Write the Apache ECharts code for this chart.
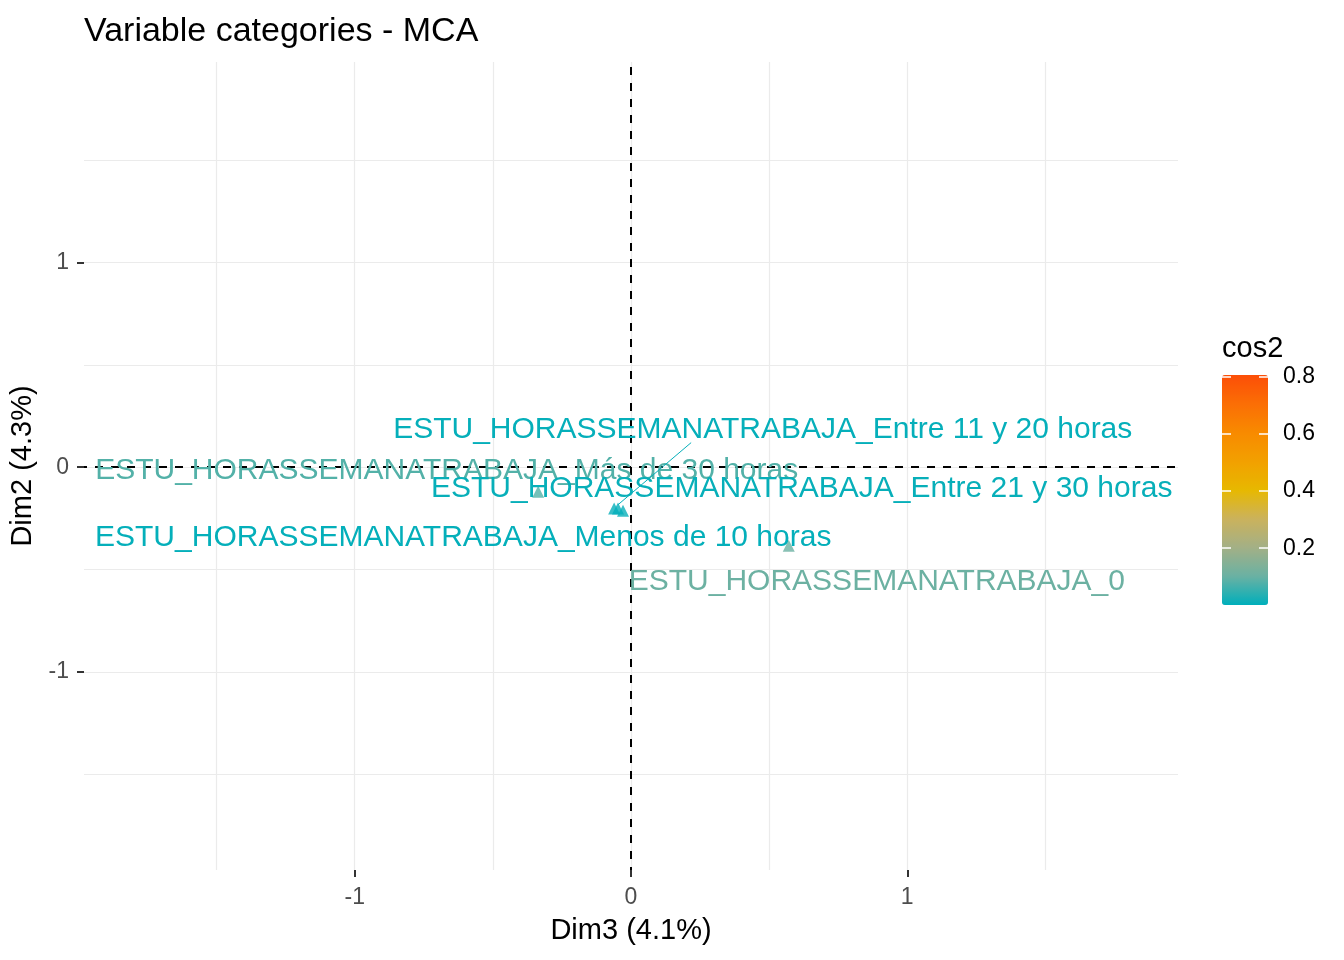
<!DOCTYPE html>
<html>
<head>
<meta charset="utf-8">
<title>Variable categories - MCA</title>
<script src="https://cdn.jsdelivr.net/npm/echarts@6/dist/echarts.min.js"></script>
<style>
    html, body {margin: 0; padding: 0; background: #fff;}
    #main {width: 1344px; height: 960px;}
</style>
</head>
<body>
<div id="main"></div>
<script>
// categorias de la variable (MCA, Dim3 vs Dim2)
var categories = [
    'ESTU_HORASSEMANATRABAJA_Más de 30 horas',
    'ESTU_HORASSEMANATRABAJA_Entre 11 y 20 horas',
    'ESTU_HORASSEMANATRABAJA_Entre 21 y 30 horas',
    'ESTU_HORASSEMANATRABAJA_Menos de 10 horas',
    'ESTU_HORASSEMANATRABAJA_0'
];
var dim3 = [-0.336, -0.061, -0.029, -0.047, 0.571];
var dim2 = [-0.120, -0.202, -0.212, -0.202, -0.383];
var cos2 = [0.080, 0.006, 0.008, 0.005, 0.105];

// ticks
var axisTicks = [-1, 0, 1];
var gridValues = [-1.5, -1, -0.5, 0, 0.5, 1, 1.5];
var legendTicks = [0.2, 0.4, 0.6, 0.8];
var cos2Range = [0.001, 0.807];

// posicion de las etiquetas (px respecto al punto) y segmentos tipo ggrepel
var labelOffsets = [[-443, -21], [-221, -79], [-192, -22], [-523, 29], [-160, 36]];
var segments = [null, [[77, -66], [4, -4]], null, null, null];

var chart = echarts.init(document.getElementById('main'));

var points = categories.map(function (name, i) {
    return [dim3[i], dim2[i], cos2[i], name];
});

var vLines = gridValues.map(function (v) { return {xAxis: v}; });
var hLines = gridValues.map(function (v) { return {yAxis: v}; });

var option = {
    backgroundColor: '#fff',
    animation: false,
    textStyle: {fontFamily: 'Liberation Sans, Arial, sans-serif'},
    title: [{
        text: 'Variable categories - MCA',
        left: 84,
        top: 15,
        padding: 0,
        textStyle: {fontSize: 34, fontWeight: 'normal', color: '#000'}
    }, {
        text: 'cos2',
        left: 1222,
        top: 334,
        padding: 0,
        textStyle: {fontSize: 29, fontWeight: 'normal', color: '#000'}
    }],
    grid: [
        {left: 84, right: 166, top: 62, bottom: 90, outerBoundsMode: 'none'},
        {left: 1222, top: 375, width: 46, height: 230, outerBoundsMode: 'none'}
    ],
    xAxis: [{
        type: 'value',
        min: -1.98,
        max: 1.98,
        name: 'Dim3 (4.1%)',
        nameLocation: 'middle',
        nameGap: 46,
        nameTextStyle: {fontSize: 29, color: '#000'},
        axisLine: {show: false, onZero: false},
        splitLine: {show: false},
        axisTick: {show: true, length: 7, customValues: axisTicks, lineStyle: {color: '#333', width: 2}},
        axisLabel: {customValues: axisTicks, fontSize: 23, color: '#4D4D4D', margin: 16}
    }, {
        gridIndex: 1,
        type: 'value',
        show: false
    }],
    yAxis: [{
        type: 'value',
        min: -1.966,
        max: 1.978,
        name: 'Dim2 (4.3%)',
        nameLocation: 'middle',
        nameGap: 42,
        nameTextStyle: {fontSize: 29, color: '#000'},
        axisLine: {show: false, onZero: false},
        splitLine: {show: false},
        axisTick: {show: true, length: 7, customValues: axisTicks, lineStyle: {color: '#333', width: 2}},
        axisLabel: {customValues: axisTicks, fontSize: 23, color: '#4D4D4D', margin: 15}
    }, {
        // marcas blancas de la barra de color (izquierda)
        gridIndex: 1,
        type: 'value',
        position: 'left',
        min: cos2Range[0],
        max: cos2Range[1],
        z: 10,
        axisLine: {show: false},
        splitLine: {show: false},
        axisTick: {show: true, inside: true, length: 9, customValues: legendTicks, lineStyle: {color: '#fff', width: 1.5}},
        axisLabel: {show: false}
    }, {
        // marcas y etiquetas (derecha)
        gridIndex: 1,
        type: 'value',
        position: 'right',
        min: cos2Range[0],
        max: cos2Range[1],
        z: 10,
        axisLine: {show: false},
        splitLine: {show: false},
        axisTick: {show: true, inside: true, length: 9, customValues: legendTicks, lineStyle: {color: '#fff', width: 1.5}},
        axisLabel: {customValues: legendTicks, fontSize: 23, color: '#000', margin: 15,
            formatter: function (v) { return v.toFixed(1); }}
    }],
    visualMap: {
        type: 'continuous',
        min: cos2Range[0],
        max: cos2Range[1],
        dimension: 2,
        seriesIndex: [2, 3],
        left: 1222,
        top: 375,
        itemWidth: 46,
        itemHeight: 230,
        padding: 0,
        calculable: false,
        inRange: {
            color: ['#00AFBB', '#6AB1A3', '#A3B086', '#CBB25C', '#E7B800', '#F2A000', '#F88A00', '#FB6E05', '#FC4E07']
        }
    },
    series: [{
        // rejilla
        type: 'scatter',
        data: [],
        silent: true,
        markLine: {
            silent: true,
            symbol: ['none', 'none'],
            label: {show: false},
            lineStyle: {color: '#EBEBEB', width: 1.2, type: 'solid'},
            data: vLines.concat(hLines)
        }
    }, {
        // lineas discontinuas en 0
        type: 'scatter',
        data: [],
        silent: true,
        z: 3,
        markLine: {
            silent: true,
            symbol: ['none', 'none'],
            label: {show: false},
            lineStyle: {color: '#000', width: 2, type: [8, 8], dashOffset: 5},
            data: [{xAxis: 0}, {yAxis: 0}]
        }
    }, {
        // puntos
        type: 'scatter',
        symbol: 'triangle',
        symbolSize: 12,
        z: 4,
        data: points
    }, {
        // etiquetas
        type: 'custom',
        z: 5,
        data: points,
        renderItem: function (params, api) {
            var i = params.dataIndex;
            var p = api.coord([api.value(0), api.value(1)]);
            var color = api.visual('color');
            var off = labelOffsets[i];
            var children = [{
                type: 'text',
                style: {
                    x: p[0] + off[0],
                    y: p[1] + off[1],
                    text: categories[i],
                    fill: color,
                    fontSize: 30,
                    fontFamily: 'Liberation Sans, Arial, sans-serif',
                    align: 'left',
                    verticalAlign: 'middle'
                }
            }];
            var seg = segments[i];
            if (seg) {
                children.push({
                    type: 'line',
                    shape: {x1: p[0] + seg[0][0], y1: p[1] + seg[0][1], x2: p[0] + seg[1][0], y2: p[1] + seg[1][1]},
                    style: {stroke: color, lineWidth: 1}
                });
            }
            return {type: 'group', children: children};
        }
    }]
};

chart.setOption(option);
</script>
</body>
</html>
